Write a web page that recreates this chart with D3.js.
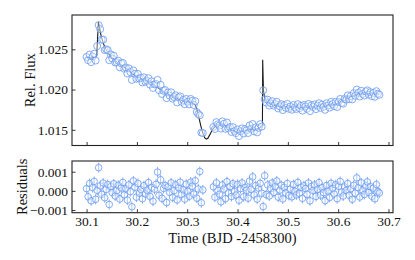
<!DOCTYPE html>
<html>
<head>
<meta charset="utf-8">
<script src="https://cdn.jsdelivr.net/npm/d3@7"></script>
<style>
  body { margin: 0; background: #fff; }
  svg { display: block; }
  text { font-family: "Liberation Serif", "DejaVu Serif", serif; fill: #111; }
</style>
</head>
<body>
<div id="chart"></div>
<script>
// observation times (BJD - 2458300), three segments with gaps
const time = [
  30.100,30.103,30.106,30.109,30.112,30.115,30.118,30.121,30.124,30.127,
  30.130,30.133,30.136,30.139,30.142,30.145,30.148,30.151,30.154,30.157,
  30.160,30.163,30.166,30.169,30.172,30.175,30.178,30.181,30.184,30.187,
  30.190,30.193,30.196,30.199,30.202,30.205,30.208,30.211,30.214,30.217,
  30.220,30.223,30.226,30.229,30.232,30.235,30.238,30.241,30.244,30.247,
  30.250,30.253,30.256,30.259,30.262,30.265,30.268,30.271,30.274,30.277,
  30.280,30.283,30.286,30.289,30.292,30.295,30.298,30.301,30.304,30.307,
  30.310,30.313,30.316,30.319,30.322,30.325,30.328,30.331,
  30.352,30.355,30.358,30.361,30.364,30.367,30.370,30.373,30.376,30.379,
  30.382,30.385,30.388,30.391,30.394,30.397,30.400,30.403,30.406,30.409,
  30.412,30.415,30.418,30.421,30.424,30.427,30.430,30.433,30.436,30.439,
  30.442,30.445,30.448,
  30.451,30.454,30.457,30.460,30.463,30.466,30.469,30.472,30.475,30.478,
  30.481,30.484,30.487,30.490,30.493,30.496,30.499,30.502,30.505,30.508,
  30.511,30.514,30.517,30.520,30.523,30.526,30.529,30.532,30.535,30.538,
  30.541,30.544,30.547,30.550,30.553,30.556,30.559,30.562,30.565,30.568,
  30.571,30.574,30.577,30.580,30.583,30.586,30.589,30.592,30.595,30.598,
  30.601,30.604,30.607,30.610,30.613,30.616,30.619,30.622,30.625,30.628,
  30.631,30.634,30.637,30.640,30.643,30.646,30.649,30.652,30.655,30.658,
  30.661,30.664,30.667,30.670,30.673,30.676,30.679,30.682
];

const flux = [
  1.02405,1.02365,1.02435,1.02340,1.02410,1.02445,1.02360,1.02540,1.02800,1.02750,
  1.02620,1.02620,1.02490,1.02500,1.02490,1.02365,1.02435,1.02385,1.02420,1.02335,
  1.02340,1.02358,1.02276,1.02324,1.02331,1.02258,1.02274,1.02200,1.02263,1.02217,
  1.02120,1.02238,1.02196,1.02134,1.02194,1.02135,1.02146,1.02088,1.02152,1.02096,
  1.02110,1.02141,1.02062,1.02103,1.02020,1.02065,1.02070,1.02120,1.01992,1.02058,
  1.01945,1.01984,1.01994,1.01893,1.01964,1.01925,1.01966,1.01887,1.01908,1.01929,
  1.01840,1.01902,1.01915,1.01847,1.01872,1.01817,1.01883,1.01849,1.01816,1.01883,
  1.01860,1.01808,1.01855,1.01720,1.01695,1.01680,1.01465,1.01460,
  1.01535,1.01510,1.01595,1.01568,1.01552,1.01515,1.01605,1.01575,1.01512,1.01590,
  1.01517,1.01533,1.01473,1.01533,1.01483,1.01458,1.01505,1.01422,1.01482,1.01518,
  1.01454,1.01510,1.01495,1.01460,1.01555,1.01514,1.01572,1.01481,1.01530,1.01468,
  1.01525,1.01570,1.01540,
  1.01990,1.01880,1.01838,1.01875,1.01800,1.01830,1.01855,1.01800,1.01820,1.01848,
  1.01765,1.01792,1.01818,1.01745,1.01804,1.01773,1.01822,1.01761,1.01790,1.01749,
  1.01808,1.01778,1.01758,1.01818,1.01768,1.01798,1.01738,1.01808,1.01789,1.01760,
  1.01821,1.01732,1.01803,1.01783,1.01815,1.01757,1.01799,1.01830,1.01772,1.01813,
  1.01786,1.01748,1.01830,1.01803,1.01775,1.01847,1.01819,1.01793,1.01848,1.01783,
  1.01848,1.01883,1.01835,1.01825,1.01885,1.01875,1.01928,1.01880,1.01920,1.01878,
  1.01955,1.01922,1.02000,1.01960,1.01913,1.01985,1.01945,1.01925,1.01975,1.01990,
  1.01936,1.01967,1.01918,1.01959,1.01910,1.01980,1.01948,1.01935
];

const residuals = [
  0.00012,-0.00031,0.00038,-0.00052,0.00017,0.00049,-0.00044,0.00003,0.00121,0.00026,
  -0.00018,0.00041,-0.00036,0.00008,0.00033,-0.00071,0.00022,-0.00009,0.00037,-0.00027,
  0.00002,0.00029,-0.00042,0.00015,0.00044,-0.00021,0.00011,-0.00048,0.00031,-0.00004,
  -0.00083,0.00052,0.00019,-0.00033,0.00039,-0.00012,0.00007,-0.00041,0.00027,-0.00016,
  0.00004,0.00043,-0.00029,0.00018,-0.00054,0.00009,0.00034,0.00098,-0.00023,0.00058,
  -0.00039,0.00013,0.00028,-0.00061,0.00021,-0.00008,0.00042,-0.00034,0.00001,0.00032,
  -0.00047,0.00016,0.00045,-0.00019,0.00006,-0.00043,0.00035,-0.00003,-0.00028,0.00046,
  0.00024,-0.00017,0.00053,-0.00038,0.00010,0.00101,-0.00062,0.00005,
  0.00021,-0.00033,0.00042,0.00002,-0.00018,-0.00057,0.00031,0.00009,-0.00041,0.00048,
  -0.00011,0.00023,-0.00029,0.00037,-0.00004,-0.00022,0.00034,-0.00049,0.00012,0.00041,
  -0.00031,0.00018,0.00003,-0.00038,0.00051,0.00008,0.00073,-0.00021,0.00027,-0.00043,
  0.00014,0.00039,-0.00012,
  -0.00082,0.00079,-0.00019,0.00031,-0.00027,0.00012,0.00041,-0.00008,0.00022,0.00052,
  -0.00033,0.00004,0.00029,-0.00042,0.00018,-0.00011,0.00038,-0.00024,0.00009,-0.00031,
  0.00033,-0.00002,-0.00021,0.00044,-0.00013,0.00019,-0.00039,0.00027,0.00012,-0.00018,
  0.00041,-0.00052,0.00023,0.00003,0.00031,-0.00029,0.00008,0.00043,-0.00022,0.00017,
  -0.00009,-0.00051,0.00028,-0.00001,-0.00034,0.00039,0.00013,-0.00017,0.00032,-0.00041,
  0.00024,0.00049,-0.00006,-0.00027,0.00021,0.00002,0.00038,-0.00023,0.00011,-0.00044,
  0.00029,-0.00012,0.00068,0.00017,-0.00032,0.00042,0.00004,-0.00019,0.00026,0.00047,
  -0.00009,0.00022,-0.00028,0.00014,-0.00041,0.00033,-0.00003,-0.00011
];
const residErr = 0.00026;

// best-fit model curve
const modelTime = [
  30.100,30.110,30.118,30.1200,30.1235,30.127,30.130,30.133,30.136,30.139,
  30.142,30.145,30.148,30.151,30.154,30.157,30.160,30.170,30.180,30.190,
  30.200,30.210,30.220,30.230,30.240,30.250,30.260,30.270,30.280,30.290,
  30.300,30.310,30.315,30.319,30.323,30.327,30.331,30.335,30.338,30.341,
  30.345,30.350,30.355,30.362,30.370,30.378,30.386,30.395,30.405,30.415,
  30.425,30.435,30.443,30.4495,30.4500,30.4515,30.454,30.458,30.465,30.475,
  30.490,30.510,30.530,30.550,30.570,30.590,30.605,30.615,30.625,30.635,
  30.645,30.660,30.672,30.682
];
const modelFlux = [
  1.02395,1.02390,1.02400,1.02420,1.02840,1.02720,1.02640,1.02580,1.02530,1.02490,
  1.02460,1.02435,1.02415,1.02395,1.02380,1.02365,1.02340,1.02300,1.02255,1.02200,
  1.02160,1.02130,1.02110,1.02080,1.02030,1.01985,1.01950,1.01920,1.01890,1.01865,
  1.01850,1.01840,1.01820,1.01760,1.01660,1.01550,1.01460,1.01400,1.01385,1.01395,
  1.01440,1.01500,1.01540,1.01570,1.01575,1.01545,1.01510,1.01480,1.01470,1.01490,
  1.01505,1.01500,1.01520,1.01560,1.02370,1.01990,1.01890,1.01850,1.01820,1.01800,
  1.01785,1.01778,1.01778,1.01783,1.01795,1.01810,1.01835,1.01870,1.01910,1.01935,
  1.01945,1.01945,1.01950,1.01945
];

const timeTicks = [30.1, 30.2, 30.3, 30.4, 30.5, 30.6, 30.7];
const fluxTicks = [1.015, 1.020, 1.025];
const residTicks = [-0.001, 0.000, 0.001];

const width = 415;
const height = 260;
const left = 72, right = 393;
const top1 = 15, bottom1 = 145.5;
const top2 = 161, bottom2 = 212.7;
const pointColor = '#6d9ef2';
const tickLen = 3.5;
const serif = '"Liberation Serif", "Times New Roman", serif';

const svg = d3.select('#chart').append('svg')
  .attr('width', width).attr('height', height)
  .attr('viewBox', `0 0 ${width} ${height}`);

const x = d3.scaleLinear().domain([30.071, 30.709]).range([left, right]);
const yFlux = d3.scaleLinear().domain([1.01305, 1.02926]).range([bottom1, top1]);
const yRes = d3.scaleLinear().domain([-0.00114, 0.00156]).range([bottom2, top2]);

const points = time.map((t, i) => ({ t, f: flux[i], r: residuals[i] }));

function drawAxes(y, yTicks, yTop, yBottom, showXLabels) {
  const xAxis = d3.axisBottom(x).tickValues(timeTicks)
    .tickSizeInner(-tickLen).tickSizeOuter(0).tickPadding(4)
    .tickFormat(showXLabels ? d3.format('.1f') : () => '');
  const gx = svg.append('g').attr('transform', `translate(0,${yBottom})`).call(xAxis);
  const yAxis = d3.axisLeft(y).tickValues(yTicks)
    .tickSizeInner(-tickLen).tickSizeOuter(0).tickPadding(4)
    .tickFormat(d3.format('.3f'));
  const gy = svg.append('g').attr('transform', `translate(${left},0)`).call(yAxis);
  [gx, gy].forEach((g) => {
    g.attr('font-family', null).attr('font-size', null);
    g.select('.domain').remove();
    g.selectAll('.tick line').attr('stroke', '#222').attr('stroke-width', 0.9);
    g.selectAll('.tick text')
      .style('font-family', serif)
      .style('font-size', '13.5px')
      .attr('fill', '#111');
  });
  svg.append('rect')
    .attr('x', left).attr('y', yTop)
    .attr('width', right - left).attr('height', yBottom - yTop)
    .attr('fill', 'none').attr('stroke', '#222').attr('stroke-width', 1.1);
}

// top panel: model underneath, flux points on top
const clip1 = svg.append('clipPath').attr('id', 'clip1');
clip1.append('rect').attr('x', left).attr('y', top1).attr('width', right - left).attr('height', bottom1 - top1);
const g1 = svg.append('g').attr('clip-path', 'url(#clip1)');

const modelLine = d3.line().x((d) => x(d[0])).y((d) => yFlux(d[1]));
g1.append('path')
  .datum(modelTime.map((t, i) => [t, modelFlux[i]]))
  .attr('d', modelLine)
  .attr('fill', 'none')
  .attr('stroke', '#1a1a1a')
  .attr('stroke-width', 1.1);

g1.selectAll('circle.pt').data(points).enter().append('circle')
  .attr('class', 'pt')
  .attr('cx', (d) => x(d.t))
  .attr('cy', (d) => yFlux(d.f))
  .attr('r', 3.5)
  .attr('fill', '#ffffff')
  .attr('fill-opacity', 0.35)
  .attr('stroke', pointColor)
  .attr('stroke-opacity', 0.85)
  .attr('stroke-width', 1);

drawAxes(yFlux, fluxTicks, top1, bottom1, false);

// bottom panel: residuals with error bars
const clip2 = svg.append('clipPath').attr('id', 'clip2');
clip2.append('rect').attr('x', left).attr('y', top2).attr('width', right - left).attr('height', bottom2 - top2);
const g2 = svg.append('g').attr('clip-path', 'url(#clip2)');

g2.selectAll('line.err').data(points).enter().append('line')
  .attr('class', 'err')
  .attr('x1', (d) => x(d.t)).attr('x2', (d) => x(d.t))
  .attr('y1', (d) => yRes(d.r - residErr))
  .attr('y2', (d) => yRes(d.r + residErr))
  .attr('stroke', pointColor)
  .attr('stroke-opacity', 0.85)
  .attr('stroke-width', 1);

g2.selectAll('circle.res').data(points).enter().append('circle')
  .attr('class', 'res')
  .attr('cx', (d) => x(d.t))
  .attr('cy', (d) => yRes(d.r))
  .attr('r', 3.3)
  .attr('fill', '#ffffff')
  .attr('fill-opacity', 0.35)
  .attr('stroke', pointColor)
  .attr('stroke-opacity', 0.85)
  .attr('stroke-width', 1);

drawAxes(yRes, residTicks, top2, bottom2, true);

// axis titles
svg.append('text')
  .attr('transform', `translate(35,${(top1 + bottom1) / 2}) rotate(-90)`)
  .attr('text-anchor', 'middle')
  .style('font-family', serif)
  .style('font-size', '14.5px')
  .text('Rel. Flux');

svg.append('text')
  .attr('transform', `translate(27,${(top2 + bottom2) / 2}) rotate(-90)`)
  .attr('text-anchor', 'middle')
  .style('font-family', serif)
  .style('font-size', '14.5px')
  .text('Residuals');

svg.append('text')
  .attr('x', (left + right) / 2)
  .attr('y', 243)
  .attr('text-anchor', 'middle')
  .style('font-family', serif)
  .style('font-size', '14.5px')
  .text('Time (BJD -2458300)');
</script>
</body>
</html>
